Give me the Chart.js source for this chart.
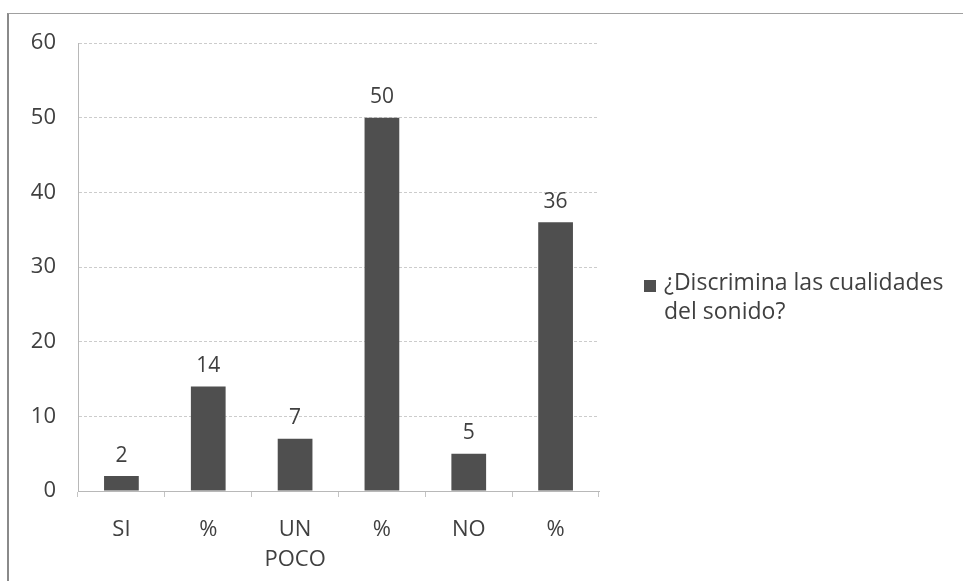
<!DOCTYPE html>
<html>
<head>
<meta charset="utf-8">
<script src="https://cdn.jsdelivr.net/npm/chart.js@4/dist/chart.umd.min.js"></script>
<style>
  body { margin: 0; background: #fff; }
  #wrap { position: relative; width: 963px; height: 581px; }
  #frame { position: absolute; left: 7px; top: 13px; width: 990px; height: 600px;
           border-left: 2px solid #8a8a8a; border-top: 1px solid #a0a0a0; }
</style>
</head>
<body>
<div id="wrap">
  <div id="frame"></div>
  <canvas id="chart" width="963" height="581"></canvas>
</div>
<script>
const categories = ['SI', '%', ['UN', 'POCO'], '%', 'NO', '%'];
const values = [2, 14, 7, 50, 5, 36];
const seriesName = ['¿Discrimina las cualidades', 'del sonido?'];
const yTicks = [0, 10, 20, 30, 40, 50, 60];

const barColor = '#4f4f4f';
const textColor = '#404040';
const font = '"Open Sans", Lato, sans-serif';

// value labels above each bar
const valueLabels = {
  id: 'valueLabels',
  afterDatasetsDraw(chart) {
    const ctx = chart.ctx;
    const meta = chart.getDatasetMeta(0);
    ctx.save();
    ctx.fillStyle = textColor;
    ctx.font = '21px ' + font;
    ctx.textAlign = 'center';
    ctx.textBaseline = 'bottom';
    meta.data.forEach((bar, i) => {
      ctx.fillText(values[i], bar.x, bar.y - 10);
    });
    ctx.restore();
  }
};

// legend drawn by hand so the text can wrap on two lines
const sideLegend = {
  id: 'sideLegend',
  afterDraw(chart) {
    const ctx = chart.ctx;
    const x = chart.chartArea.right + 45;
    const y = 283;
    ctx.save();
    ctx.fillStyle = barColor;
    ctx.fillRect(x, y - 3, 12, 12);
    ctx.fillStyle = textColor;
    ctx.font = '23px ' + font;
    ctx.textBaseline = 'middle';
    ctx.fillText(seriesName[0], x + 20, y);
    ctx.fillText(seriesName[1], x + 20, y + 29);
    ctx.restore();
  }
};

new Chart(document.getElementById('chart'), {
  type: 'bar',
  data: {
    labels: categories,
    datasets: [{
      label: seriesName.join(' '),
      data: values,
      backgroundColor: barColor,
      barPercentage: 0.4,
      categoryPercentage: 1
    }]
  },
  options: {
    responsive: false,
    animation: false,
    layout: { padding: { top: 43, right: 364, bottom: 0, left: 0 } },
    plugins: {
      legend: { display: false },
      tooltip: { enabled: false }
    },
    scales: {
      x: {
        grid: { offset: true, drawOnChartArea: false, drawTicks: true, tickLength: 6, color: '#c4c4c4' },
        border: { color: '#b8b8b8' },
        ticks: { color: textColor, font: { family: font, size: 22, lineHeight: 1.4 }, padding: 17 },
        afterFit(scale) { scale.height = 90; }
      },
      y: {
        min: 0,
        max: 60,
        afterBuildTicks(scale) { scale.ticks = yTicks.map(v => ({ value: v })); },
        grid: { color: '#cccccc', drawTicks: false },
        border: { color: '#b8b8b8', dash: [3, 2] },
        ticks: { color: textColor, font: { family: font, size: 22 }, padding: 22 },
        afterFit(scale) { scale.width = 78; }
      }
    }
  },
  plugins: [valueLabels, sideLegend]
});
</script>
</body>
</html>
